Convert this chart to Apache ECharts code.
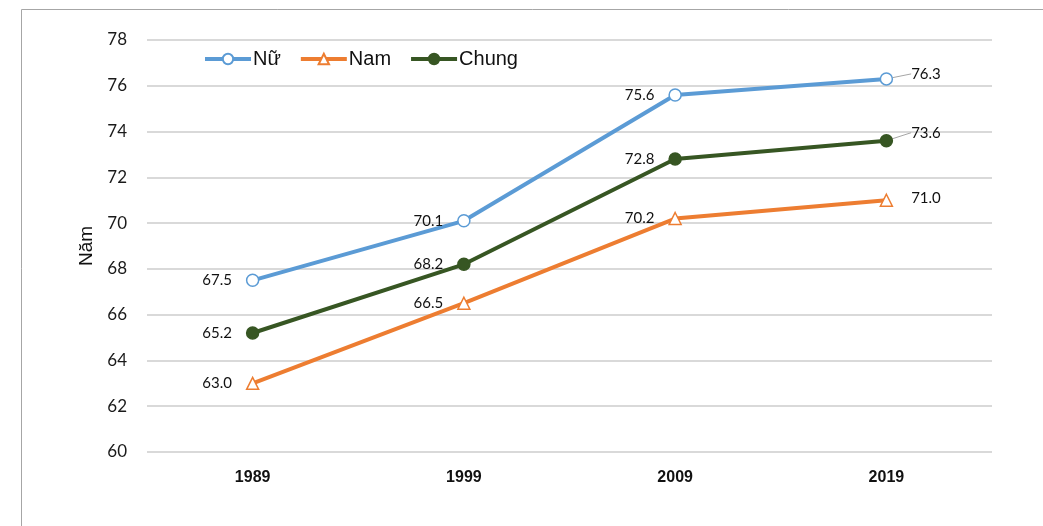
<!DOCTYPE html>
<html>
<head>
<meta charset="utf-8">
<script src="https://cdn.jsdelivr.net/npm/echarts@6/dist/echarts.min.js"></script>
<style>
  html, body { margin: 0; padding: 0; background: #fff; }
  #chart { width: 1043px; height: 526px; }
</style>
</head>
<body>
<div id="chart"></div>
<script>
// Life expectancy (years) by census year
const years = ['1989', '1999', '2009', '2019'];
const female = [67.5, 70.1, 75.6, 76.3];
const male = [63.0, 66.5, 70.2, 71.0];
const overall = [65.2, 68.2, 72.8, 73.6];

const labelFont = { fontFamily: 'Lato, "Open Sans", sans-serif', fontSize: 15, color: '#111' };

// last point is labelled on the right (optionally with a short leader), others on the left
function points(values, leader) {
  return values.map((v, i) => {
    const last = i === values.length - 1;
    return {
      value: v,
      label: last
        ? { position: 'right', distance: 18 }
        : { position: 'left', distance: 14 },
      labelLine: { show: last && leader }
    };
  });
}

function lineSeries(name, values, color, symbol, fill, lastDy, leader) {
  return {
    name: name,
    type: 'line',
    data: points(values, leader),
    symbol: symbol,
    symbolSize: 12,
    lineStyle: { color: color, width: 4 },
    itemStyle: { color: fill, borderColor: color, borderWidth: 1.5 },
    label: Object.assign({ show: true, formatter: p => p.value.toFixed(1) }, labelFont),
    labelLine: { show: false, lineStyle: { color: '#a6a6a6', width: 1 } },
    labelLayout: p => (p.dataIndex === values.length - 1 ? { dy: lastDy } : {}),
    emphasis: { disabled: true },
    animation: false,
    z: 3
  };
}

const chart = echarts.init(document.getElementById('chart'), null, { renderer: 'canvas' });
chart.setOption({
  backgroundColor: '#fff',
  animation: false,
  graphic: [{
    type: 'rect',
    shape: { x: 21.5, y: 9.5, width: 1200, height: 700 },
    style: { fill: 'none', stroke: '#a6a6a6', lineWidth: 1 },
    silent: true
  }],
  grid: { left: 147, right: 51, top: 40, bottom: 74 },
  legend: {
    left: 198,
    top: 44,
    itemWidth: 46,
    itemHeight: 13,
    itemGap: 18,
    lineStyle: { width: 4 },
    textStyle: { fontFamily: '"Liberation Sans", Arial, sans-serif', fontSize: 20, color: '#111', padding: [0, 0, 0, -3] },
    data: ['Nữ', 'Nam', 'Chung']
  },
  xAxis: {
    type: 'category',
    data: years,
    boundaryGap: true,
    axisLine: { show: false },
    axisTick: { show: false },
    axisLabel: {
      margin: 18,
      fontFamily: '"Liberation Sans", Arial, sans-serif',
      fontWeight: 'bold',
      fontSize: 16,
      color: '#111'
    }
  },
  yAxis: {
    type: 'value',
    min: 60,
    max: 78,
    interval: 2,
    name: 'Năm',
    nameLocation: 'middle',
    nameGap: 50,
    nameRotate: 90,
    nameTextStyle: { fontFamily: '"Liberation Sans", Arial, sans-serif', fontSize: 19, color: '#111' },
    axisLine: { show: false },
    axisTick: { show: false },
    axisLabel: {
      margin: 20,
      fontFamily: 'Lato, "Open Sans", sans-serif',
      fontSize: 17,
      color: '#1a1a1a'
    },
    splitLine: { lineStyle: { color: '#d9d9d9', width: 2 } }
  },
  series: [
    lineSeries('Nữ', female, '#5b9bd5', 'circle', '#ffffff', -5, true),
    lineSeries('Nam', male, '#ed7d31', 'triangle', '#ffffff', -2, false),
    lineSeries('Chung', overall, '#375623', 'circle', '#375623', -8, true)
  ]
});
</script>
</body>
</html>
